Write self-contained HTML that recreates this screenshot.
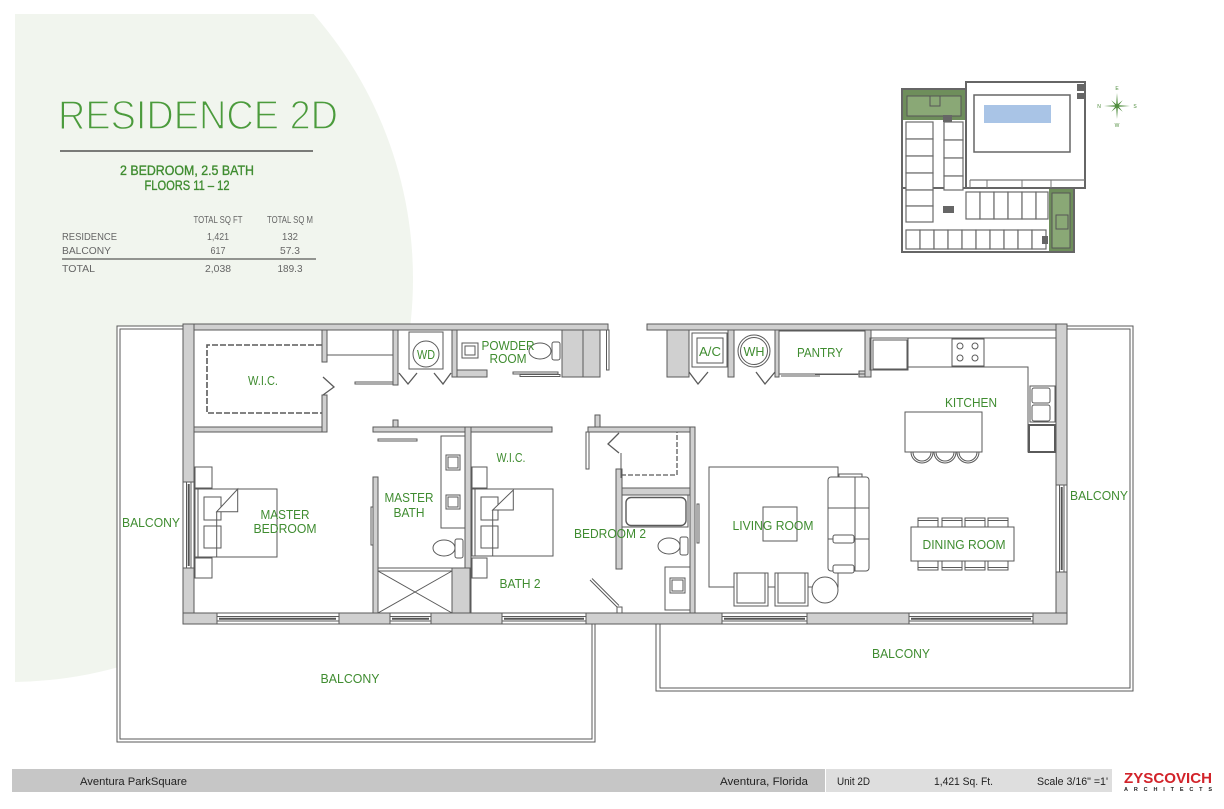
<!DOCTYPE html>
<html><head><meta charset="utf-8"><style>
html,body{margin:0;padding:0;background:#fff;}
svg{display:block;}
.w{fill:#d0d0d0;stroke:#5a5a5a;stroke-width:1}
.l{fill:none;stroke:#5a5a5a;stroke-width:1}
.f{fill:#fff;stroke:#666;stroke-width:1}
.g{font-family:"Liberation Sans",sans-serif;fill:#3f8c30;font-size:13px}
.k{font-family:"Liberation Sans",sans-serif;fill:#666;font-size:10.5px}
.ft{font-family:"Liberation Sans",sans-serif;fill:#222;font-size:11px}
.kp{fill:#fff;stroke:#6a6a6a;stroke-width:1.2}
</style></head><body>
<svg width="1224" height="809" viewBox="0 0 1224 809" xmlns="http://www.w3.org/2000/svg">
<defs><clipPath id="c"><rect x="15" y="14" width="500" height="700"/></clipPath></defs>
<rect width="1224" height="809" fill="#fff"/>
<circle cx="10" cy="279" r="403" fill="#f1f5ee" clip-path="url(#c)"/>

<!-- Header -->
<text x="58" y="129" font-family="Liberation Sans, sans-serif" font-size="40.5" fill="#4b9b3c" stroke="#f1f5ee" stroke-width="1.4" textLength="280" lengthAdjust="spacingAndGlyphs">RESIDENCE 2D</text>
<line x1="60" y1="151" x2="313" y2="151" stroke="#333" stroke-width="1.2"/>
<text x="187" y="175" text-anchor="middle" font-family="Liberation Sans, sans-serif" font-size="13.5" fill="#3f8c30" stroke="#3f8c30" stroke-width="0.35" textLength="134" lengthAdjust="spacingAndGlyphs">2 BEDROOM, 2.5 BATH</text>
<text x="187" y="190" text-anchor="middle" font-family="Liberation Sans, sans-serif" font-size="13.5" fill="#3f8c30" stroke="#3f8c30" stroke-width="0.35" textLength="85" lengthAdjust="spacingAndGlyphs">FLOORS 11 – 12</text>
<text x="218" y="223" text-anchor="middle" class="k" font-size="7.5" textLength="49" lengthAdjust="spacingAndGlyphs">TOTAL SQ FT</text>
<text x="290" y="223" text-anchor="middle" class="k" font-size="7.5" textLength="46" lengthAdjust="spacingAndGlyphs">TOTAL SQ M</text>
<text x="62" y="240" class="k" textLength="55" lengthAdjust="spacingAndGlyphs">RESIDENCE</text>
<text x="218" y="240" text-anchor="middle" class="k" textLength="22" lengthAdjust="spacingAndGlyphs">1,421</text>
<text x="290" y="240" text-anchor="middle" class="k" textLength="16" lengthAdjust="spacingAndGlyphs">132</text>
<text x="62" y="254" class="k" textLength="49" lengthAdjust="spacingAndGlyphs">BALCONY</text>
<text x="218" y="254" text-anchor="middle" class="k" textLength="15" lengthAdjust="spacingAndGlyphs">617</text>
<text x="290" y="254" text-anchor="middle" class="k" textLength="20" lengthAdjust="spacingAndGlyphs">57.3</text>
<line x1="62" y1="259" x2="316" y2="259" stroke="#333" stroke-width="1"/>
<text x="62" y="272" class="k" textLength="33" lengthAdjust="spacingAndGlyphs">TOTAL</text>
<text x="218" y="272" text-anchor="middle" class="k" textLength="26" lengthAdjust="spacingAndGlyphs">2,038</text>
<text x="290" y="272" text-anchor="middle" class="k" textLength="25" lengthAdjust="spacingAndGlyphs">189.3</text>

<!-- Key plan -->
<g>
<rect x="902" y="89" width="64" height="163" fill="#fff" stroke="#666" stroke-width="2"/>
<rect x="902" y="188" width="172" height="64" fill="#fff" stroke="#666" stroke-width="2"/>
<rect x="966" y="82" width="119" height="106" fill="#fff" stroke="#666" stroke-width="2"/>
<rect x="974" y="95" width="96" height="57" fill="none" stroke="#666" stroke-width="1.5"/>
<rect x="984" y="105" width="67" height="18" fill="#a9c4e6"/>
<rect x="1077" y="84" width="7" height="7" fill="#666"/>
<rect x="1077" y="93" width="7" height="6" fill="#666"/>
<line x1="970" y1="180" x2="1085" y2="180" stroke="#777" stroke-width="1.2"/>
<line x1="970" y1="180" x2="970" y2="188" stroke="#777"/>
<line x1="987" y1="180" x2="987" y2="188" stroke="#777"/>
<line x1="1022" y1="180" x2="1022" y2="188" stroke="#777"/>
<line x1="1051" y1="180" x2="1051" y2="188" stroke="#777"/>
<rect x="903" y="90" width="62" height="30" fill="#6e8e5b"/>
<rect x="907" y="96" width="54" height="20" fill="#8aa876" stroke="#555" stroke-width="1"/>
<rect x="930" y="96" width="10" height="10" fill="none" stroke="#555"/>
<rect x="1049" y="189" width="24" height="62" fill="#6e8e5b"/>
<rect x="1052" y="193" width="18" height="55" fill="#8aa876" stroke="#555"/>
<rect x="1056" y="215" width="12" height="14" fill="none" stroke="#555"/>
<g class="kp">
<rect x="906" y="122" width="27" height="17"/><rect x="906" y="139" width="27" height="17"/>
<rect x="906" y="156" width="27" height="17"/><rect x="906" y="173" width="27" height="17"/>
<rect x="906" y="190" width="27" height="16"/><rect x="906" y="206" width="27" height="16"/>
<rect x="944" y="122" width="19" height="18"/><rect x="944" y="140" width="19" height="18"/>
<rect x="944" y="158" width="19" height="18"/><rect x="944" y="176" width="19" height="14"/>
<rect x="966" y="192" width="14" height="27"/><rect x="980" y="192" width="14" height="27"/>
<rect x="994" y="192" width="14" height="27"/><rect x="1008" y="192" width="14" height="27"/>
<rect x="1022" y="192" width="14" height="27"/><rect x="1036" y="192" width="12" height="27"/>
<rect x="906" y="230" width="14" height="19"/><rect x="920" y="230" width="14" height="19"/>
<rect x="934" y="230" width="14" height="19"/><rect x="948" y="230" width="14" height="19"/>
<rect x="962" y="230" width="14" height="19"/><rect x="976" y="230" width="14" height="19"/>
<rect x="990" y="230" width="14" height="19"/><rect x="1004" y="230" width="14" height="19"/>
<rect x="1018" y="230" width="14" height="19"/><rect x="1032" y="230" width="14" height="19"/>
</g>
<rect x="943" y="115" width="9" height="7" fill="#666"/>
<rect x="943" y="206" width="11" height="7" fill="#666"/>
<rect x="1042" y="236" width="6" height="8" fill="#666"/>
<path d="M1117,93 L1117.8,104.2 L1122.7,100.3 L1118.8,105.2 L1130,106 L1118.8,106.8 L1122.7,111.7 L1117.8,107.8 L1117,119 L1116.2,107.8 L1111.3,111.7 L1115.2,106.8 L1104,106 L1115.2,105.2 L1111.3,100.3 L1116.2,104.2 Z" fill="#4e8c3c"/>
<text x="1117" y="90" text-anchor="middle" font-family="Liberation Sans, sans-serif" font-size="5" fill="#4e8c3c">E</text>
<text x="1099" y="108" text-anchor="middle" font-family="Liberation Sans, sans-serif" font-size="5" fill="#4e8c3c">N</text>
<text x="1135" y="108" text-anchor="middle" font-family="Liberation Sans, sans-serif" font-size="5" fill="#4e8c3c">S</text>
<text x="1117" y="127" text-anchor="middle" font-family="Liberation Sans, sans-serif" font-size="5" fill="#4e8c3c">W</text>
</g>

<!-- Balconies -->
<path d="M183,326 L117,326 L117,742 L595,742 L595,624 Z" fill="#fff" stroke="none"/>
<path d="M183,326 L117,326 L117,742 L595,742 L595,624" class="l" stroke-width="1.2"/>
<path d="M183,329 L120,329 L120,739 L592,739 L592,624" class="l"/>
<path d="M656,624 L656,691 L1133,691 L1133,326 L1067,326 L1067,624 Z" fill="#fff" stroke="none"/>
<path d="M656,624 L656,691 L1133,691 L1133,326 L1067,326" class="l" stroke-width="1.2"/>
<path d="M660,624 L660,688 L1130,688 L1130,329 L1067,329" class="l"/>

<!-- Interior floor -->
<rect x="183" y="324" width="884" height="300" fill="#fff"/>

<!-- Exterior walls -->
<g class="w">
<rect x="183" y="324" width="425" height="6"/>
<rect x="647" y="324" width="420" height="6"/>
<rect x="183" y="324" width="11" height="158"/>
<rect x="183" y="568" width="11" height="56"/>
<rect x="1056" y="324" width="11" height="161"/>
<rect x="1056" y="572" width="11" height="52"/>
<rect x="183" y="613" width="34" height="11"/>
<rect x="339" y="613" width="51" height="11"/>
<rect x="431" y="613" width="71" height="11"/>
<rect x="586" y="613" width="136" height="11"/>
<rect x="807" y="613" width="102" height="11"/>
<rect x="1033" y="613" width="34" height="11"/>
</g>
<!-- Windows -->
<g>
<rect x="217" y="613" width="122" height="11" fill="#fff" stroke="#5a5a5a"/>
<rect x="390" y="613" width="41" height="11" fill="#fff" stroke="#5a5a5a"/>
<rect x="502" y="613" width="84" height="11" fill="#fff" stroke="#5a5a5a"/>
<rect x="722" y="613" width="85" height="11" fill="#fff" stroke="#5a5a5a"/>
<rect x="909" y="613" width="124" height="11" fill="#fff" stroke="#5a5a5a"/>
<path d="M217,616.5H339M390,616.5H431M502,616.5H586M722,616.5H807M909,616.5H1033M217,621H339M390,621H431M502,621H586M722,621H807M909,621H1033" class="l"/>
<path d="M219,618.7H336M392,618.7H429M504,618.7H584M724,618.7H805M911,618.7H1031" stroke="#555" stroke-width="2"/>
<rect x="183" y="482" width="11" height="86" fill="#fff" stroke="#5a5a5a"/>
<rect x="1056" y="485" width="11" height="87" fill="#fff" stroke="#5a5a5a"/>
<path d="M186.5,482V568M191,482V568M1059.5,485V572M1064,485V572" class="l"/>
<path d="M188.7,484V566M1061.7,487V570" stroke="#555" stroke-width="2"/>
</g>

<!-- Interior walls -->
<g class="w">
<rect x="194" y="427" width="133" height="5"/>
<rect x="322" y="395" width="5" height="37"/>
<rect x="322" y="330" width="5" height="32"/>
<rect x="393" y="330" width="5" height="55"/>
<rect x="452" y="330" width="5" height="47"/>
<rect x="457" y="370" width="30" height="7"/>
<rect x="562" y="330" width="21" height="47"/>
<rect x="583" y="330" width="17" height="47"/>
<rect x="667" y="330" width="22" height="47"/>
<rect x="728" y="330" width="6" height="47"/>
<rect x="775" y="330" width="4" height="47"/>
<rect x="865" y="330" width="6" height="47"/>
<rect x="859" y="371" width="6" height="6"/>
<rect x="373" y="427" width="179" height="5"/>
<rect x="393" y="420" width="5" height="7"/>
<rect x="373" y="477" width="5" height="136"/>
<rect x="465" y="427" width="6" height="186"/>
<rect x="452" y="568" width="18" height="45"/>
<rect x="588" y="427" width="107" height="5"/>
<rect x="595" y="415" width="5" height="12"/>
<rect x="616" y="469" width="6" height="100"/>
<rect x="622" y="488" width="68" height="7"/>
<rect x="690" y="427" width="5" height="186"/>
</g>

<!-- Linework / fixtures -->
<g class="l">
<!-- WIC master -->
<path d="M322,345 H207 V413 H322" stroke-width="1.6" stroke-dasharray="6,2"/>
<polyline points="323,377 334,387 323,395" stroke-width="1.3"/>
<!-- linen -->
<path d="M327,355 H393"/>
<rect x="355" y="382" width="38" height="2"/>
<!-- WD -->
<rect x="409" y="332" width="34" height="37"/>
<circle cx="426" cy="354" r="13"/>
<polyline points="399,373 408,384 417,373" stroke-width="1.3"/>
<polyline points="434,373 443,384 451,373" stroke-width="1.3"/>
<!-- powder -->
<rect x="462" y="343" width="16" height="15"/><rect x="465" y="346" width="10" height="9"/>
<ellipse cx="540" cy="351" rx="11" ry="8"/><rect x="552" y="342" width="8" height="18" rx="2"/>
<rect x="513" y="372" width="45" height="2"/><rect x="520" y="374.5" width="40" height="2"/>
<rect x="606.5" y="330" width="2.5" height="40"/>
<!-- A/C WH pantry -->
<rect x="692" y="333" width="35" height="34"/><rect x="697" y="338" width="26" height="25"/>
<polyline points="689,372 698,384 708,372" stroke-width="1.3"/>
<circle cx="754" cy="351" r="16"/><circle cx="754" cy="351" r="13.5"/>
<polyline points="756,372 765,384 775,372" stroke-width="1.3"/>
<rect x="779" y="331" width="86" height="43"/>
<path d="M781,376 H820 M815,374.5 H858"/>
<!-- kitchen -->
<rect x="870" y="338" width="38" height="32"/><rect x="873" y="340" width="34" height="29"/>
<path d="M908,338 H1056 M908,367 H1028 V452 H1056"/>
<rect x="952" y="339" width="32" height="27"/>
<circle cx="960" cy="346" r="3"/><circle cx="975" cy="346" r="3"/>
<circle cx="960" cy="358" r="3"/><circle cx="975" cy="358" r="3"/>
<rect x="1030" y="386" width="25" height="36"/>
<rect x="1032" y="388" width="18" height="15" rx="2"/><rect x="1032" y="405" width="18" height="16" rx="2"/>
<rect x="1029" y="425" width="26" height="27" stroke-width="2"/>
<rect x="905" y="412" width="77" height="40"/>
<path d="M911,452 A11,11 0 0 0 933,452 M913,452 A9,9 0 0 0 931,452"/>
<path d="M934,452 A11,11 0 0 0 956,452 M936,452 A9,9 0 0 0 954,452"/>
<path d="M957,452 A11,11 0 0 0 979,452 M959,452 A9,9 0 0 0 977,452"/>
<!-- dining -->
<rect x="911" y="527" width="103" height="34"/>
<rect x="918" y="518" width="20" height="9"/><rect x="942" y="518" width="20" height="9"/>
<rect x="965" y="518" width="20" height="9"/><rect x="988" y="518" width="20" height="9"/>
<rect x="918" y="561" width="20" height="9"/><rect x="942" y="561" width="20" height="9"/>
<rect x="965" y="561" width="20" height="9"/><rect x="988" y="561" width="20" height="9"/>
<path d="M918,520.5H938M942,520.5H962M965,520.5H985M988,520.5H1008M918,567.5H938M942,567.5H962M965,567.5H985M988,567.5H1008"/>
<!-- living -->
<rect x="709" y="467" width="129" height="120"/>
<rect x="763" y="507" width="34" height="34"/>
<rect x="839" y="474" width="23" height="3"/>
<rect x="828" y="477" width="41" height="94" rx="3" fill="#fff"/>
<path d="M855,477 V571 M828,508 H869 M828,539 H869"/>
<rect x="833" y="535" width="21" height="8" rx="2" fill="#fff"/>
<rect x="833" y="565" width="21" height="8" rx="2" fill="#fff"/>
<rect x="734" y="573" width="34" height="33" fill="#fff"/><rect x="775" y="573" width="33" height="33" fill="#fff"/>
<path d="M737,573V603H765V573M778,573V603H805V573"/>
<circle cx="825" cy="590" r="13" fill="#fff"/>
<!-- master bedroom -->
<rect x="195" y="467" width="17" height="21"/><rect x="195" y="558" width="17" height="20"/>
<rect x="195" y="489" width="82" height="68" fill="#fff"/>
<path d="M198,489V557"/>
<rect x="204" y="497" width="17" height="23"/><rect x="204" y="526" width="17" height="22"/>
<path d="M216.7,511.7 V557"/>
<path d="M216.7,511.7 L237.7,489 V511.7 Z" fill="#fff"/>
<!-- master bath -->
<rect x="378" y="439" width="39" height="2"/>
<rect x="371" y="507" width="2" height="38"/>
<rect x="441" y="436" width="24" height="92"/>
<rect x="446" y="455" width="14" height="15"/><rect x="448" y="457" width="10" height="11"/>
<rect x="446" y="495" width="14" height="14"/><rect x="448" y="497" width="10" height="10"/>
<ellipse cx="444" cy="548" rx="11" ry="8"/><rect x="455" y="539" width="8" height="19" rx="2"/>
<rect x="378" y="568" width="74" height="45"/>
<path d="M378,571 H452 M378,571 L452,613 M452,571 L378,613"/>
<!-- bedroom 2 -->
<rect x="472" y="467" width="15" height="21"/><rect x="472" y="558" width="15" height="20"/>
<rect x="472" y="489" width="81" height="67" fill="#fff"/>
<path d="M475,489V556"/>
<rect x="481" y="497" width="17" height="23"/><rect x="481" y="526" width="17" height="22"/>
<path d="M492.7,510 V556"/>
<path d="M492.7,510 L513.3,490 V510 Z" fill="#fff"/>
<rect x="586" y="432" width="3" height="37"/>
<polyline points="619,433 608,444 619,453" stroke-width="1.3"/>
<path d="M621,453 V478"/>
<path d="M621,475 H677 V432" stroke-dasharray="5,2" stroke-width="1.3"/>
<rect x="622" y="495" width="66" height="32"/>
<rect x="626" y="497.5" width="60" height="28" rx="5" stroke-width="1.4"/>
<ellipse cx="669" cy="546" rx="11" ry="8"/><rect x="680" y="537" width="8" height="18" rx="2"/>
<rect x="665" y="567" width="25" height="43"/>
<rect x="670" y="578" width="15" height="15"/><rect x="672" y="580" width="11" height="11"/>
<path d="M590,580 L617,607 M592,578.5 L619,605.5"/>
<rect x="617" y="607" width="5" height="6"/>
<rect x="697" y="504" width="2" height="39"/>
</g>

<!-- Room labels -->
<g class="g">
<text x="263" y="385" text-anchor="middle" textLength="30" lengthAdjust="spacingAndGlyphs">W.I.C.</text>
<text x="426" y="359" text-anchor="middle" textLength="18" lengthAdjust="spacingAndGlyphs">WD</text>
<text x="508" y="350" text-anchor="middle" textLength="53" lengthAdjust="spacingAndGlyphs">POWDER</text>
<text x="508" y="363" text-anchor="middle" textLength="37" lengthAdjust="spacingAndGlyphs">ROOM</text>
<text x="710" y="356" text-anchor="middle" textLength="22" lengthAdjust="spacingAndGlyphs">A/C</text>
<text x="754" y="356" text-anchor="middle" textLength="21" lengthAdjust="spacingAndGlyphs">WH</text>
<text x="820" y="357" text-anchor="middle" textLength="46" lengthAdjust="spacingAndGlyphs">PANTRY</text>
<text x="971" y="407" text-anchor="middle" textLength="52" lengthAdjust="spacingAndGlyphs">KITCHEN</text>
<text x="151" y="527" text-anchor="middle" textLength="58" lengthAdjust="spacingAndGlyphs">BALCONY</text>
<text x="285" y="519" text-anchor="middle" textLength="49" lengthAdjust="spacingAndGlyphs">MASTER</text>
<text x="285" y="533" text-anchor="middle" textLength="63" lengthAdjust="spacingAndGlyphs">BEDROOM</text>
<text x="409" y="502" text-anchor="middle" textLength="49" lengthAdjust="spacingAndGlyphs">MASTER</text>
<text x="409" y="517" text-anchor="middle" textLength="31" lengthAdjust="spacingAndGlyphs">BATH</text>
<text x="511" y="462" text-anchor="middle" textLength="29" lengthAdjust="spacingAndGlyphs">W.I.C.</text>
<text x="610" y="538" text-anchor="middle" textLength="72" lengthAdjust="spacingAndGlyphs">BEDROOM 2</text>
<text x="520" y="588" text-anchor="middle" textLength="41" lengthAdjust="spacingAndGlyphs">BATH 2</text>
<text x="773" y="530" text-anchor="middle" textLength="81" lengthAdjust="spacingAndGlyphs">LIVING ROOM</text>
<text x="964" y="549" text-anchor="middle" textLength="83" lengthAdjust="spacingAndGlyphs">DINING ROOM</text>
<text x="1099" y="500" text-anchor="middle" textLength="58" lengthAdjust="spacingAndGlyphs">BALCONY</text>
<text x="350" y="683" text-anchor="middle" textLength="59" lengthAdjust="spacingAndGlyphs">BALCONY</text>
<text x="901" y="658" text-anchor="middle" textLength="58" lengthAdjust="spacingAndGlyphs">BALCONY</text>
</g>

<!-- Footer -->
<rect x="12" y="769" width="813" height="23" fill="#c6c6c6"/>
<rect x="826" y="769" width="286" height="23" fill="#dedede"/>
<text x="80" y="785" class="ft" textLength="107" lengthAdjust="spacingAndGlyphs">Aventura ParkSquare</text>
<text x="720" y="785" class="ft" textLength="88" lengthAdjust="spacingAndGlyphs">Aventura, Florida</text>
<text x="837" y="785" class="ft" textLength="33" lengthAdjust="spacingAndGlyphs">Unit 2D</text>
<text x="934" y="785" class="ft" textLength="59" lengthAdjust="spacingAndGlyphs">1,421 Sq. Ft.</text>
<text x="1037" y="785" class="ft" textLength="71" lengthAdjust="spacingAndGlyphs">Scale 3/16" =1'</text>
<text x="1124" y="783" font-family="Liberation Sans, sans-serif" font-weight="bold" font-size="15" fill="#d2232a" textLength="88" lengthAdjust="spacingAndGlyphs">ZYSCOVICH</text>
<text x="1124" y="791" font-family="Liberation Sans, sans-serif" font-weight="bold" font-size="5.5" fill="#222" textLength="88" lengthAdjust="spacing">ARCHITECTS</text>
</svg>
</body></html>
